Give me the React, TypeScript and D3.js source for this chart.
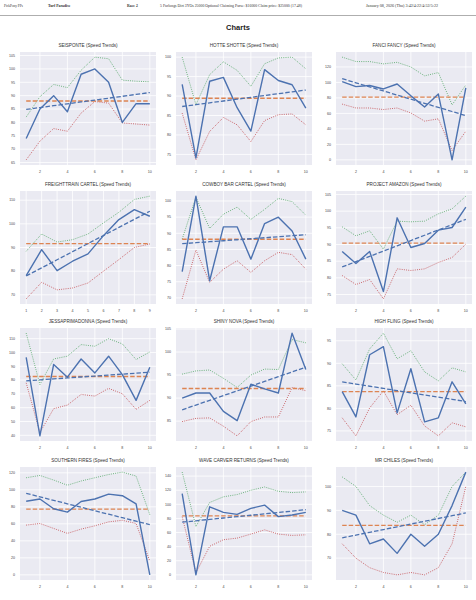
import React, { useEffect, useRef } from 'react';
import * as d3 from 'd3';

const horseNames = [
  'SEISPONTE', 'HOTTE SHOTTE', 'FANCI FANCY',
  'FREIGHTTRAIN CARTEL', 'COWBOY BAR CARTEL', 'PROJECT AMAZON',
  'JESSAPRIMADONNA', 'SHINY NOVA', 'HIGH FLING',
  'SOUTHERN FIRES', 'WAVE CARVER RETURNS', 'MR CHILES',
];

// speed figure per race, oldest first
const speedFigures = [
  [74, 85, 90, 84, 98, 100, 95, 80, 87, 87],
  [93, 74.1, 93.8, 94.8, 87, 81, 96.8, 94, 92.9, 86.9],
  [101, 94.6, 96, 91.6, 98, 82.7, 68.3, 85, 0, 93],
  [78.1, 89.1, 80.2, 84.2, 87.3, 95, 101.8, 106, 103.2],
  [78.1, 101.5, 75.3, 92, 92, 82, 93, 95, 90.7, 82],
  [87.9, 84.3, 87.9, 75.9, 98, 89.1, 90.3, 94.3, 95.1, 101.2],
  [96.5, 39.6, 91.3, 82.1, 95.3, 85.2, 97.3, 84, 65.3, 89.3],
  [90, 91.1, 91.1, 87.1, 85.1, 93, 92, 91.1, 104.1, 96.2],
  [83.7, 78.1, 91.9, 93.7, 79, 88.8, 77, 77.9, 85.9, 81],
  [86.5, 89.2, 77.7, 73.8, 86.2, 89.2, 95, 93.1, 83.5, 0],
  [115.2, 0, 96.5, 88.6, 85.8, 94.2, 98.9, 82.5, 84.9, 88.6],
  [90, 88, 76, 78, 72, 80, 75, 80, 92, 106],
];

const upperBand = [
  [82, 89.6, 94.2, 93, 99.5, 104.4, 103.8, 95.8, 95.4, 95.2],
  [100, 87.8, 95.5, 98.8, 96.6, 92.5, 98.3, 99.8, 100, 97],
  [132.7, 127, 127, 124, 126, 120, 108.5, 112.8, 71, 96.7],
  [88.4, 95.7, 92.3, 93.3, 95.7, 100.4, 104.9, 110.3, 111.7],
  [88.2, 101.2, 91.5, 95.9, 98.1, 94.3, 97.4, 100.8, 99.8, 95.6],
  [95.3, 92.6, 94.1, 88.6, 97, 96.8, 97, 99.2, 100.7, 104.5],
  [114, 76.8, 95.3, 97.3, 105.7, 104.5, 110, 106.2, 94.9, 100.4],
  [95.2, 95.9, 96.1, 94.3, 92.3, 95, 96.3, 96.2, 102.7, 102],
  [89.9, 86.3, 93.2, 96.7, 91, 92.8, 88.1, 86.1, 89, 88.1],
  [114.2, 116.9, 111.5, 105.4, 110.4, 114.2, 118, 120.8, 116.2, 70.8],
  [145.6, 68.5, 102.6, 110.6, 113.8, 119.9, 124.6, 118.5, 116.6, 117.6],
  [104, 100, 92, 88, 85, 88, 84, 88, 100, 106],
];

const lowerBand = [
  [66, 73, 77.7, 76.7, 83.5, 87.8, 87.2, 79.8, 79.4, 79],
  [85.6, 73.6, 80.9, 84.5, 82.6, 78.3, 83.7, 85.2, 85.4, 82.6],
  [72, 67, 67, 65, 67, 60.6, 50, 53, 12, 37],
  [68.3, 75.3, 72.1, 72.9, 75, 80, 84.9, 90, 91.5],
  [69.7, 84.8, 74.8, 78.9, 81.5, 77.9, 81.5, 84.1, 83.4, 78.9],
  [80.7, 78, 79.5, 73.7, 82.7, 82.2, 82.7, 84.6, 86.1, 90.1],
  [78, 42, 59.3, 61.9, 69.6, 68.4, 74, 70.1, 58.8, 65.3],
  [84.9, 85.6, 85.7, 83.9, 81.8, 84.9, 85.9, 85.9, 92.3, 91.6],
  [77.9, 73.9, 80.1, 83.9, 78.6, 80.7, 76.1, 73.9, 76.8, 75.9],
  [58.5, 60.4, 54.6, 48.8, 53.8, 57.7, 62.3, 64.2, 60.4, 16.2],
  [82.5, 3, 40.5, 49.8, 52.1, 57.8, 63.8, 57.8, 55.9, 56.8],
  [76, 70, 66, 64, 63, 64, 63, 66, 76, 100],
];

const yTickValues = [
  [65, 70, 75, 80, 85, 90, 95, 100, 105],
  [75, 80, 85, 90, 95, 100],
  [0, 20, 40, 60, 80, 100, 120],
  [70, 80, 90, 100, 110],
  [70, 75, 80, 85, 90, 95, 100],
  [75, 80, 85, 90, 95, 100, 105],
  [40, 50, 60, 70, 80, 90, 100, 110],
  [85, 90, 95, 100, 105],
  [75, 80, 85, 90, 95],
  [0, 20, 40, 60, 80, 100, 120],
  [0, 20, 40, 60, 80, 100, 120, 140],
  [70, 80, 90, 100],
];

const xTickValues = [
  [2, 4, 6, 8, 10], [2, 4, 6, 8, 10], [2, 4, 6, 8, 10],
  [1, 2, 3, 4, 5, 6, 7, 8, 9], [2, 4, 6, 8, 10], [2, 4, 6, 8, 10],
  [2, 4, 6, 8, 10], [2, 4, 6, 8, 10], [2, 4, 6, 8, 10],
  [2, 4, 6, 8, 10], [2, 4, 6, 8, 10], [2, 4, 6, 8, 10],
];

const W = 476;
const H = 600;
const colLeft = [20, 176, 336];
const rowTop = [52, 191, 328, 467];
const plotW = 136;
const plotH = 113;
const font = "'Liberation Sans', Arial, sans-serif";

const App: React.FC = () => {
  const svgRef = useRef<SVGSVGElement | null>(null);

  useEffect(() => {
    if (!svgRef.current) return;
    const svg = d3.select(svgRef.current);
    svg.selectAll('*').remove();

    svg.append('rect').attr('width', W).attr('height', H).attr('fill', '#fff');

    // header strip
    const header = svg.append('g').attr('font-family', "'Liberation Serif', serif").attr('font-size', 3.4).attr('fill', '#333');
    header.append('text').attr('x', 4).attr('y', 7).text('PickPony PPs');
    header.append('text').attr('x', 48).attr('y', 7).attr('font-weight', 'bold').attr('font-size', 3.8).text('Turf Paradise');
    header.append('text').attr('x', 127).attr('y', 7).attr('font-weight', 'bold').attr('font-size', 3.8).text('Race 2');
    header.append('text').attr('x', 160).attr('y', 7).attr('textLength', 142).attr('lengthAdjust', 'spacingAndGlyphs')
      .text('5 Furlongs Dirt 3YOs 25000 Optional Claiming Purse: $16000 Claim price: $25000 (17.48)');
    header.append('text').attr('x', 366).attr('y', 7).attr('textLength', 72).attr('lengthAdjust', 'spacingAndGlyphs')
      .text('January 08, 2026 (Thu) 3:42/4:22/4:52/5:22');
    svg.append('line').attr('x1', 0).attr('x2', W).attr('y1', 15.5).attr('y2', 15.5)
      .attr('stroke', '#999').attr('stroke-width', 0.8);

    svg.append('text').attr('x', W / 2).attr('y', 30).attr('text-anchor', 'middle')
      .attr('font-family', font).attr('font-weight', 'bold').attr('font-size', 7.5).attr('fill', '#222')
      .text('Charts');

    horseNames.forEach((name, i) => {
      const speed = speedFigures[i];
      const upper = upperBand[i];
      const lower = lowerBand[i];
      const n = speed.length;
      const xs = d3.range(1, n + 1);

      const mean = d3.mean(speed) as number;
      const xMean = d3.mean(xs) as number;
      const slope = d3.sum(xs, (x, k) => (x - xMean) * (speed[k] - mean)) / d3.sum(xs, x => (x - xMean) ** 2);
      const trend = xs.map(x => mean + slope * (x - xMean));

      const all = [...speed, ...upper, ...lower, ...trend];
      const [lo, hi] = d3.extent(all) as [number, number];
      const pad = (hi - lo) * 0.05;

      const xPad = (n - 1) * 0.05;
      const x = d3.scaleLinear().domain([1 - xPad, n + xPad]).range([0, plotW]);
      const y = d3.scaleLinear().domain([lo - pad, hi + pad]).range([plotH, 0]);

      const g = svg.append('g')
        .attr('transform', `translate(${colLeft[i % 3]},${rowTop[Math.floor(i / 3)]})`);

      g.append('rect').attr('width', plotW).attr('height', plotH).attr('fill', '#EAEAF2');

      const yt = yTickValues[i].filter(t => t >= y.domain()[0] && t <= y.domain()[1]);
      g.append('g').selectAll('line').data(yt).join('line')
        .attr('x1', 0).attr('x2', plotW).attr('y1', d => y(d)).attr('y2', d => y(d))
        .attr('stroke', '#fff').attr('stroke-width', 0.8);
      g.append('g').selectAll('line').data(xTickValues[i]).join('line')
        .attr('y1', 0).attr('y2', plotH).attr('x1', d => x(d)).attr('x2', d => x(d))
        .attr('stroke', '#fff').attr('stroke-width', 0.8);

      g.append('g').attr('font-family', font).attr('font-size', 3.6).attr('fill', '#444')
        .attr('text-anchor', 'end')
        .selectAll('text').data(yt).join('text')
        .attr('x', -5).attr('y', d => y(d)).attr('dy', '0.35em').text(d => d);
      g.append('g').attr('font-family', font).attr('font-size', 3.6).attr('fill', '#444')
        .attr('text-anchor', 'middle')
        .selectAll('text').data(xTickValues[i]).join('text')
        .attr('x', d => x(d)).attr('y', plotH + 8).text(d => d);

      g.append('text').attr('x', plotW / 2).attr('y', -5).attr('text-anchor', 'middle')
        .attr('font-family', font).attr('font-size', 4.6).attr('fill', '#333')
        .text(`${name} (Speed Trends)`);

      const line = d3.line<number>().x((_, k) => x(k + 1)).y(d => y(d));

      g.append('path').attr('d', line(upper)).attr('fill', 'none')
        .attr('stroke', '#55A868').attr('stroke-width', 0.9).attr('stroke-dasharray', '0.9,1.3');
      g.append('path').attr('d', line(lower)).attr('fill', 'none')
        .attr('stroke', '#C44E52').attr('stroke-width', 0.9).attr('stroke-dasharray', '0.9,1.3');
      g.append('path').attr('d', line(xs.map(() => mean))).attr('fill', 'none')
        .attr('stroke', '#DD8452').attr('stroke-width', 1.3).attr('stroke-dasharray', '4.5,2');
      g.append('path').attr('d', line(trend)).attr('fill', 'none')
        .attr('stroke', '#4C72B0').attr('stroke-width', 1.3).attr('stroke-dasharray', '4.5,2');
      g.append('path').attr('d', line(speed)).attr('fill', 'none')
        .attr('stroke', '#4C72B0').attr('stroke-width', 1.4).attr('stroke-linejoin', 'round');
    });
  }, []);

  return (
    <svg ref={svgRef} width={W} height={H}
      style={{ position: 'absolute', left: 0, top: 0, display: 'block' }} />
  );
};

export default App;
